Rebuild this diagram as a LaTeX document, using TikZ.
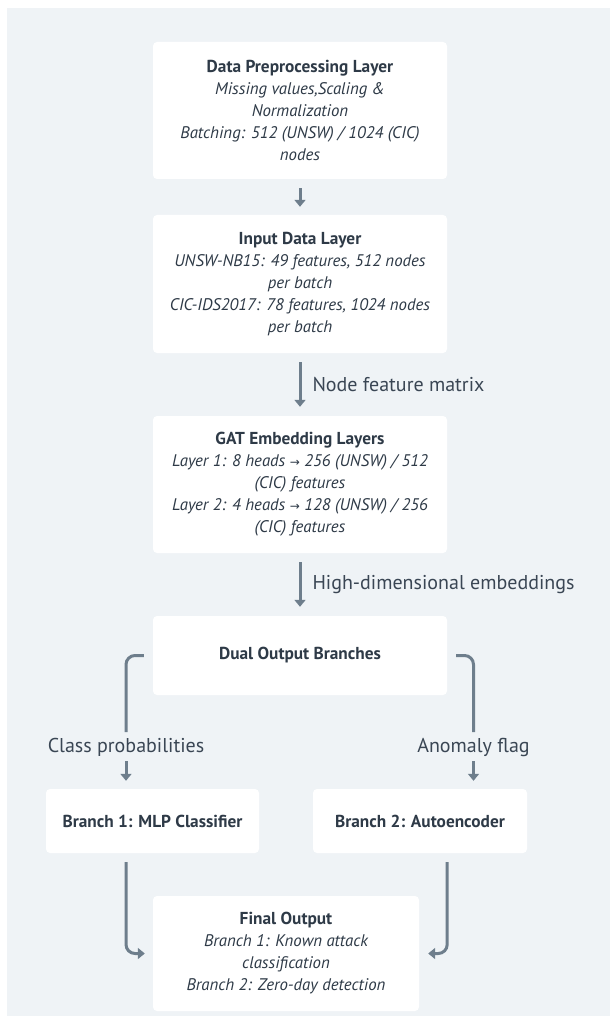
\documentclass[tikz,border=0pt]{standalone}
\usepackage{fontspec}
\setmainfont{PT Sans}
\usetikzlibrary{arrows.meta,calc}
\definecolor{bgc}{HTML}{EFF3F6}
\definecolor{txc}{HTML}{2E3A47}
\definecolor{itc}{HTML}{3A4654}
\definecolor{arc}{HTML}{6E7E8C}
\tikzset{
  x=1pt,y=-1pt,
  box/.style={fill=white,rounded corners=4pt,align=center,text=txc,inner sep=0pt,
    font=\fontsize{16.8}{22}\selectfont},
  conn/.style={draw=arc,line width=3pt,rounded corners=9pt},
  arr/.style={conn,-{Triangle[width=11pt,length=7pt]}},
  lbl/.style={text=itc,font=\fontsize{20}{22}\selectfont,inner sep=0pt}
}
\newcommand{\ttl}[1]{{\fontsize{17.3}{22}\selectfont\bfseries #1}}
\newcommand{\rarr}{{\fontspec{DejaVu Sans}\fontsize{12}{22}\selectfont→}}
\begin{document}
\begin{tikzpicture}
\useasboundingbox (0,0) rectangle (610,1016);
\fill[white] (0,0) rectangle (610,1016);
\fill[bgc] (7,8) rectangle (610,1016);

\node[box,minimum width=294pt,minimum height=137pt] (b1) at (300,110.5)
  {\ttl{Data Preprocessing Layer}\\ \itshape Missing values,Scaling \&\\ \itshape Normalization\\ \itshape Batching: 512 (UNSW) / 1024 (CIC)\\ \itshape nodes};
\node[box,minimum width=294pt,minimum height=138pt] (b2) at (300,284)
  {\ttl{Input Data Layer}\\ \itshape UNSW-NB15: 49 features, 512 nodes\\ \itshape per batch\\ \itshape CIC-IDS2017: 78 features, 1024 nodes\\ \itshape per batch};
\node[box,minimum width=294pt,minimum height=137pt] (b3) at (300,484.5)
  {\ttl{GAT Embedding Layers}\\ \itshape Layer 1: 8 heads \rarr{} 256 (UNSW) / 512\\ \itshape (CIC) features\\ \itshape Layer 2: 4 heads \rarr{} 128 (UNSW) / 256\\ \itshape (CIC) features};
\node[box,minimum width=294pt,minimum height=79pt] (b4) at (300,655.5)
  {\ttl{Dual Output Branches}};
\node[box,minimum width=213pt,minimum height=64pt] (br1) at (152.5,821)
  {\ttl{Branch 1: MLP Classifier}};
\node[box,minimum width=214pt,minimum height=64pt] (br2) at (420,821)
  {\ttl{Branch 2: Autoencoder}};
\node[box,minimum width=266pt,minimum height=115pt] (fin) at (286,953.5)
  {\ttl{Final Output}\\ \itshape Branch 1: Known attack\\ \itshape classification\\ \itshape Branch 2: Zero-day detection};

\node[lbl] (lp) at (126,747) {Class probabilities};
\node[lbl] (la) at (473.5,747) {Anomaly flag};

\draw[arr,shorten <=9pt,shorten >=8pt] (b1) -- (b2);
\draw[arr,shorten <=9pt,shorten >=9pt] (b2) -- node[lbl,anchor=west,xshift=11pt]{Node feature matrix} (b3);
\draw[arr,shorten <=9pt,shorten >=9pt] (b3) -- node[lbl,anchor=west,xshift=11pt]{High-dimensional embeddings} (b4);

\draw[conn] ([xshift=-9pt]b4.west) -| ([yshift=15pt]lp.center);
\draw[conn] ([xshift=9pt]b4.east) -| ([yshift=15pt]la.center);
\draw[arr,shorten >=8pt] ([yshift=-14pt]lp.center) -- (lp.center |- br1.north);
\draw[arr,shorten >=8pt] ([yshift=-14pt]la.center) -- (la.center |- br2.north);

\draw[arr] ([yshift=-9pt]lp.center |- br1.south) |- ([xshift=-8pt]fin.west);
\draw[arr] ([yshift=-9pt]b4.east |- br2.south) |- ([xshift=9pt]fin.east);
\end{tikzpicture}
\end{document}
